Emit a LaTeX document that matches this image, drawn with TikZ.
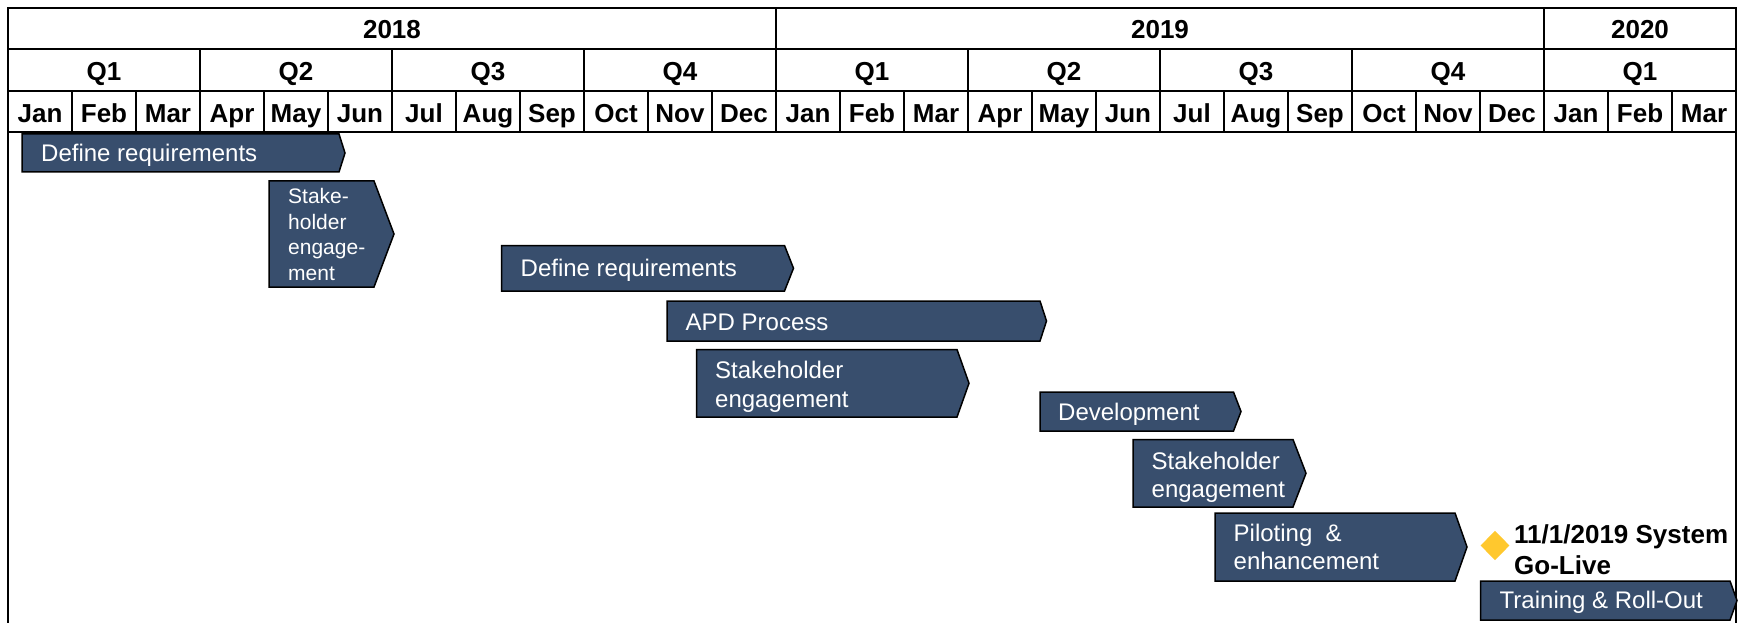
\documentclass[tikz,border=0pt]{standalone}
\usepackage{fontspec}
\setmainfont{Liberation Sans}
\usetikzlibrary{shapes.geometric}
\definecolor{barblue}{RGB}{56,78,109}
\definecolor{milegold}{RGB}{255,200,46}
\newcommand{\ganttbar}[5]{\filldraw[barshape] (#1,#4) -- (#2,#4) -- (#3,{(#4+#5)/2}) -- (#2,#5) -- (#1,#5) -- cycle;}
\begin{document}
\begin{tikzpicture}[x=1bp,y=-1bp,
  hdr/.style={font=\fontsize{26bp}{30bp}\selectfont\bfseries, inner sep=0pt, text height=18.6bp, text depth=0pt},
  gridline/.style={line width=2bp, black},
  bartext/.style={font=\fontsize{24bp}{28.5bp}\selectfont, text=white, align=left, anchor=west, inner sep=0pt},
  oneline/.style={bartext, text height=17.2bp, text depth=0pt},
  smalltext/.style={font=\fontsize{21bp}{25.5bp}\selectfont, text=white, align=left, anchor=west, inner sep=0pt},
  barshape/.style={fill=barblue, draw=black, line width=1.5bp, line join=miter},
  miletext/.style={font=\fontsize{26bp}{31.7bp}\selectfont\bfseries, align=left, anchor=west, inner sep=0pt}
]
\useasboundingbox (0,0) rectangle (1748,623);
% frame and header grid
\draw[gridline] (8,623) -- (8,8) -- (1736,8) -- (1736,623);
\foreach \yy in {49,91,132} \draw[gridline] (8,\yy) -- (1736,\yy);
\foreach \xx in {776,1544} \draw[gridline] (\xx,8) -- (\xx,49);
\foreach \k in {1,...,8} \draw[gridline] ({8+192*\k},49) -- ({8+192*\k},91);
\foreach \k in {1,...,26} \draw[gridline] ({8+64*\k},91) -- ({8+64*\k},132);
% header labels
\node[hdr] (y2018) at (392,29.5) {2018};
\node[hdr] (y2019) at (1160,29.5) {2019};
\node[hdr] (y2020) at (1640,29.5) {2020};
\foreach \q [count=\i from 0] in {Q1,Q2,Q3,Q4,Q1,Q2,Q3,Q4,Q1}
  \node[hdr] (q\i) at ({8+192*\i+96},71) {\q};
\foreach \m [count=\i from 0] in {Jan,Feb,Mar,Apr,May,Jun,Jul,Aug,Sep,Oct,Nov,Dec,Jan,Feb,Mar,Apr,May,Jun,Jul,Aug,Sep,Oct,Nov,Dec,Jan,Feb,Mar}
  \node[hdr] (m\i) at ({8+64*\i+32},113.3) {\m};
% bars
\ganttbar{22}{339}{345}{134}{172}
\node[oneline] (dr1) at (41,152.5) {Define requirements};
\ganttbar{269}{374}{394}{181}{287}
\node[smalltext] (sh1) at (288,234.6) {Stake-\\holder\\engage-\\ment};
\ganttbar{501.5}{784.5}{793.5}{245.5}{291}
\node[oneline] (dr2) at (520.5,268.2) {Define requirements};
\ganttbar{667}{1040}{1046.5}{301}{341}
\node[oneline] (apd) at (685.5,322) {APD Process};
\ganttbar{696.5}{957}{969}{349.5}{417}
\node[bartext] (sh2) at (715,387) {Stakeholder\\engagement};
\ganttbar{1040}{1233.5}{1241}{392}{431}
\node[oneline] (dev) at (1058,411.8) {Development};
\ganttbar{1133}{1293}{1306}{439.5}{507}
\node[bartext] (sh3) at (1151.5,477.5) {Stakeholder\\engagement};
\ganttbar{1215}{1455}{1467}{513}{581}
\node[bartext] (pil) at (1233.5,547) {Piloting\ \ \&\\enhancement};
\ganttbar{1480.5}{1730}{1737}{581}{620}
\node[oneline] (trn) at (1499.5,599.7) {Training \& Roll-Out};
% milestone
\node[diamond, fill=milegold, minimum width=29bp, minimum height=29.5bp, inner sep=0pt] (gol) at (1495,545.5) {};
\node[miletext] (golt) at (1514,549.7) {11/1/2019 System\\Go-Live};
\end{tikzpicture}
\end{document}
